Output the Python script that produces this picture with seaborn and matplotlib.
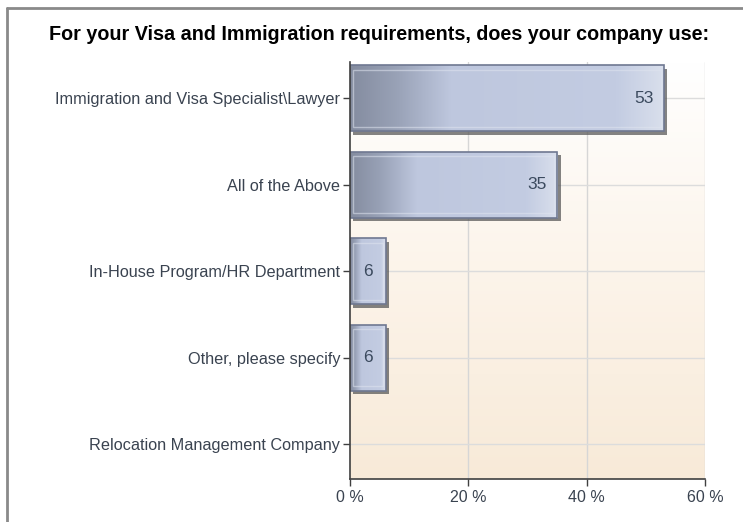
import numpy as np
import pandas as pd
import matplotlib
matplotlib.use("Agg")
import matplotlib.pyplot as plt
import matplotlib.patheffects as pe
from matplotlib.colors import LinearSegmentedColormap
from matplotlib.patches import Rectangle
from matplotlib.lines import Line2D
import seaborn as sns

title = "For your Visa and Immigration requirements, does your company use:"
categories = [
    "Immigration and Visa Specialist\\Lawyer",
    "All of the Above",
    "In-House Program/HR Department",
    "Other, please specify",
    "Relocation Management Company",
]
percent = [53, 35, 6, 6, 0]
x_ticks = [0, 20, 40, 60]
x_tick_labels = ["0 %", "20 %", "40 %", "60 %"]

sns.set_theme(style="white")
plt.rcParams["font.family"] = ["Liberation Sans", "DejaVu Sans"]

df = pd.DataFrame({"answer": categories, "percent": percent})

fig = plt.figure(figsize=(7.43, 5.22), dpi=100)
ax = fig.add_axes([350 / 743, 1 - 479 / 522, 355 / 743, (479 - 62) / 522])

bar_h = 0.76
sns.barplot(data=df, x="percent", y="answer", orient="h", ax=ax,
            width=bar_h, color="#c0c9df", edgecolor="none", zorder=3)

# background: white fading to light peach toward the bottom
bg_cmap = LinearSegmentedColormap.from_list("bg", ["#ffffff", "#fcf4ea", "#f8ead8"])
ax.imshow(np.linspace(0, 1, 256).reshape(-1, 1), cmap=bg_cmap, aspect="auto",
          extent=[0, 60, 4.4, -0.42], zorder=0, interpolation="bilinear")

# grid
for xv in x_ticks[1:]:
    ax.axvline(xv, color="#d6d6d6", lw=1, zorder=1)
for yi in range(len(categories)):
    ax.axhline(yi, color="#dcdcdc", lw=1, zorder=1)

# shaded bars
bar_cmap = LinearSegmentedColormap.from_list(
    "bar", [(0.0, "#848c9f"), (0.15, "#99a2b7"), (0.32, "#bec7de"),
            (0.85, "#c3cce2"), (1.0, "#d9dfec")])
grad = np.linspace(0, 1, 256).reshape(1, -1)
for patch, val in zip(ax.patches, percent):
    if val <= 0:
        patch.set_visible(False)
        continue
    x0, y0 = patch.get_x(), patch.get_y()
    w, h = patch.get_width(), patch.get_height()
    patch.set_path_effects([pe.SimplePatchShadow(offset=(2.5, -2.5), shadow_rgbFace="#5a5a5a",
                                                 alpha=0.75), pe.Normal()])
    img = ax.imshow(grad, cmap=bar_cmap, aspect="auto", extent=[x0, x0 + w, y0 + h, y0],
                    zorder=3.5, interpolation="bilinear")
    img.set_clip_path(patch)
    ax.add_patch(Rectangle((x0 + 0.5, y0 + 0.05), w - 1.0, h - 0.1, fill=False,
                           edgecolor="#dfe4ef", lw=1, alpha=0.55, zorder=3.7))
    ax.add_patch(Rectangle((x0, y0), w, h, fill=False, edgecolor="#6f7891",
                           lw=1.2, zorder=3.8))
ax.set_xlim(0, 60)
ax.set_ylim(4.4, -0.42)

# value labels
for yi, val in enumerate(percent):
    if val <= 0:
        continue
    if val >= 10:
        ax.text(val - 1.7, yi, f"{val}", ha="right", va="center", fontsize=12.5,
                color="#3b4a5e", zorder=5)
    else:
        ax.text(val / 2, yi, f"{val}", ha="center", va="center", fontsize=12.5,
                color="#3b4a5e", zorder=5)

ax.set_xticks(x_ticks)
ax.set_xticklabels(x_tick_labels)
ax.set_xlabel("")
ax.set_ylabel("")
ax.tick_params(axis="both", colors="#404040", labelcolor="#3a4350", labelsize=11.7,
               direction="out", length=5, width=1, left=True, bottom=True)
ax.tick_params(axis="y", pad=2)
ax.tick_params(axis="x", pad=3, labelsize=11.5)
for s in ["top", "right"]:
    ax.spines[s].set_visible(False)
for s in ["left", "bottom"]:
    ax.spines[s].set_color("#404040")
    ax.spines[s].set_linewidth(1.2)
    ax.spines[s].set_zorder(6)

fig.text(379 / 743, 1 - 35 / 522, title, ha="center", va="center",
         fontsize=14.2, fontweight="bold", color="#000000")

# frame lines along the top and left edges
fig.add_artist(Line2D([7 / 743, 7 / 743], [0, 1 - 8 / 522], transform=fig.transFigure,
                      color="#8a8a8a", lw=2))
fig.add_artist(Line2D([7 / 743, 1], [1 - 8 / 522, 1 - 8 / 522], transform=fig.transFigure,
                      color="#8a8a8a", lw=2))

fig.savefig("out.png", dpi=100, facecolor="white")
